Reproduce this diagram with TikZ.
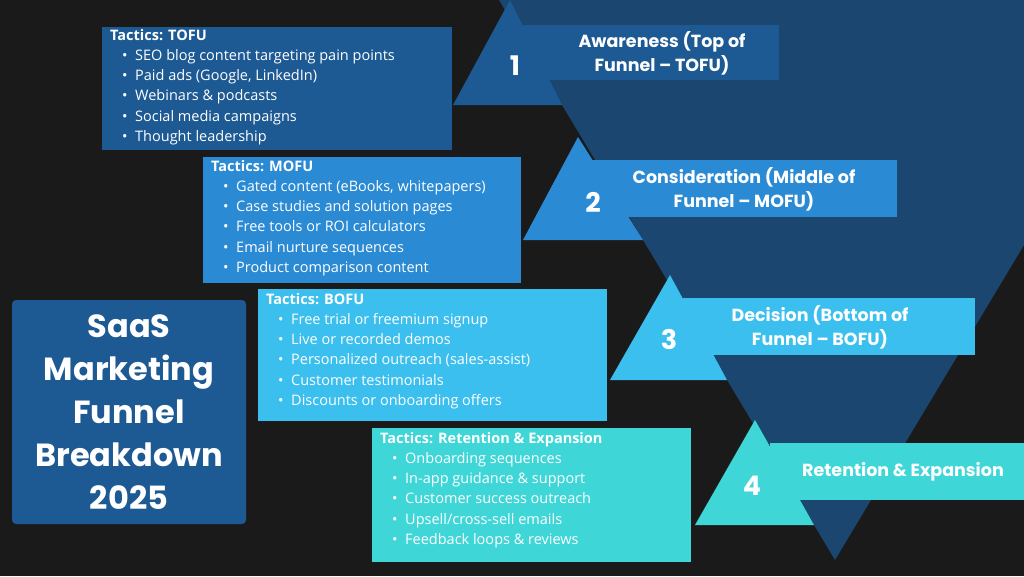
\documentclass[tikz,border=0pt]{standalone}
\usepackage{fontspec}
\setmainfont{Open Sans}
\newfontfamily\pop{Poppins}
\definecolor{bg}{HTML}{1A1A1A}
\definecolor{fun}{HTML}{1A4670}
\definecolor{cA}{HTML}{1D5A94}
\definecolor{cB}{HTML}{2B8AD4}
\definecolor{cC}{HTML}{3BBFEE}
\definecolor{cD}{HTML}{3FD6D8}
\newcommand{\bl}[1]{\hspace*{12pt}\makebox[13pt][l]{\textbullet}#1}
\tikzset{
  tac/.style={anchor=north west,inner sep=0pt,text=white,align=left,font=\fontsize{14.5}{20.2}\selectfont},
  stg/.style={text=white,align=center,font=\pop\bfseries\fontsize{17.5}{24}\selectfont},
  num/.style={text=white,font=\pop\bfseries\fontsize{27}{30}\selectfont},
}
\begin{document}
\begin{tikzpicture}[x=1pt,y=-1pt]
\fill[bg] (0,0) rectangle (1024,576);
\useasboundingbox (0,0) rectangle (1024,576);
% funnel
\fill[fun] (499,0) -- (1171,0) -- (835,560) -- cycle;
% stage shapes
\fill[cA] (510,0) -- (453,105) -- (562,105) -- cycle;
\fill[cA] (520,25) rectangle (779,80);
\fill[cB] (578,137) -- (523,240) -- (643,240) -- cycle;
\fill[cB] (590,160) rectangle (897,217);
\fill[cC] (670,275) -- (610,380) -- (727,380) -- cycle;
\fill[cC] (683,298) rectangle (975,355);
\fill[cD] (755,420) -- (695,525) -- (814,525) -- cycle;
\fill[cD] (770,443) rectangle (1024,500);
\node[stg] (s1) at (662,53) {Awareness (Top of\\Funnel – TOFU)};
\node[stg] (s2) at (744,189) {Consideration (Middle of\\Funnel – MOFU)};
\node[stg] (s3) at (820,327) {Decision (Bottom of\\Funnel – BOFU)};
\node[stg] (s4) at (903,472) {Retention \& Expansion};
\node[num] (n1) at (515,66) {1};
\node[num] (n2) at (593,202) {2};
\node[num] (n3) at (669,339) {3};
\node[num] (n4) at (752,486) {4};
% tactic boxes
\fill[cA] (102,27) rectangle (452,150);
\fill[cB] (203,157) rectangle (521,283);
\fill[cC] (258,289) rectangle (607,421);
\fill[cD] (372,428) rectangle (691,562);
\node[tac] (t1) at (110,29) {\textbf{Tactics: TOFU}\\\bl{SEO blog content targeting pain points}\\\bl{Paid ads (Google, LinkedIn)}\\\bl{Webinars \& podcasts}\\\bl{Social media campaigns}\\\bl{Thought leadership}};
\node[tac] (t2) at (211,160) {\textbf{Tactics: MOFU}\\\bl{Gated content (eBooks, whitepapers)}\\\bl{Case studies and solution pages}\\\bl{Free tools or ROI calculators}\\\bl{Email nurture sequences}\\\bl{Product comparison content}};
\node[tac] (t3) at (266,293) {\textbf{Tactics: BOFU}\\\bl{Free trial or freemium signup}\\\bl{Live or recorded demos}\\\bl{Personalized outreach (sales-assist)}\\\bl{Customer testimonials}\\\bl{Discounts or onboarding offers}};
\node[tac] (t4) at (380,432) {\textbf{Tactics: Retention \& Expansion}\\\bl{Onboarding sequences}\\\bl{In-app guidance \& support}\\\bl{Customer success outreach}\\\bl{Upsell/cross-sell emails}\\\bl{Feedback loops \& reviews}};
% title
\fill[cA,rounded corners=4pt] (12,300) rectangle (246,524);
\node[text=white,align=center,font=\pop\bfseries\fontsize{32}{43}\selectfont] (title) at (129,412) {SaaS\\Marketing\\Funnel\\Breakdown\\2025};
\end{tikzpicture}
\end{document}
